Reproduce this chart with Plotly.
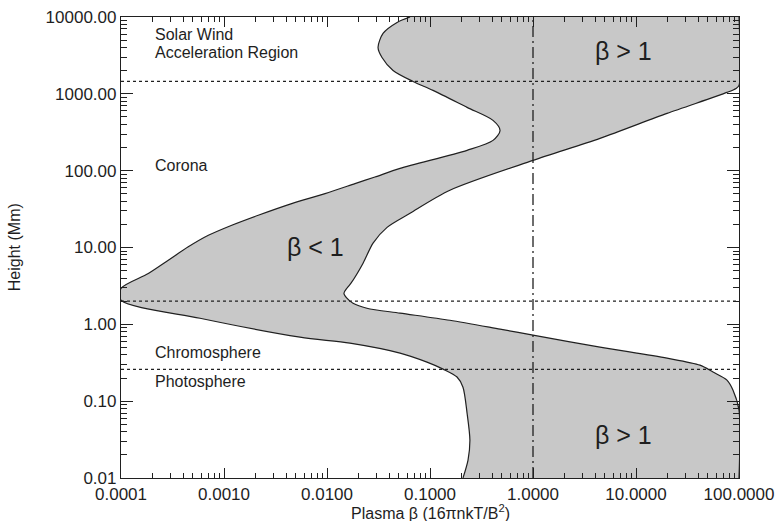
import plotly.graph_objects as go

# ---- data ----
# left (low-beta) boundary of the shaded band, bottom -> top
h_lo = [0.01, 0.0171, 0.0312, 0.070, 0.152, 0.206, 0.261, 0.322, 0.422, 0.569,
        0.681, 1.20, 2.06, 2.93, 4.58, 6.83, 10.2, 14.4, 19.5, 26.3,
        37.3, 50.3, 67.8, 82.7, 107, 184, 248, 334, 451, 666,
        1108, 1450, 2015, 2974, 4012, 6105, 8480, 10000]
beta_lo = [0.209, 0.234, 0.244, 0.229, 0.209, 0.183, 0.134, 0.0935, 0.0512, 0.0167,
           0.00547, 0.000585, 0.0001, 0.0001, 0.000184, 0.000288, 0.000450, 0.000705, 0.00119, 0.00215,
           0.00454, 0.00957, 0.0187, 0.0292, 0.0512, 0.229, 0.409, 0.479, 0.409, 0.229,
           0.107, 0.0684, 0.0438, 0.0342, 0.0313, 0.0350, 0.0479, 0.0640]

# right (high-beta) boundary of the shaded band, bottom -> top
h_hi = [0.01, 0.0766, 0.139, 0.188, 0.239, 0.294, 0.363, 0.505, 0.723, 0.865, 1.13, 1.40,
        1.62, 1.88, 2.19, 2.54, 2.95, 3.43, 6.24, 11.4, 18.3, 27.9, 55.5, 136, 263, 556,
        1043, 1176, 1286, 10000]
beta_hi = [100, 100, 87.5, 76.4, 56.0, 41.8, 20.0, 4.47, 1.0, 0.479, 0.156, 0.0512,
           0.0244, 0.0179, 0.0156, 0.0146, 0.0156, 0.0171, 0.0224, 0.0280, 0.0383, 0.0640,
           0.156, 1.0, 4.47, 20.0, 76.4, 93.5, 100, 100]

# region boundaries (Mm) and beta = 1
region_heights = [1450, 2.0, 0.26]
beta_unity = 1.0

x_tickvals = [1e-4, 1e-3, 1e-2, 1e-1, 1, 10, 100]
x_ticktext = ["0.0001", "0.0010", "0.0100", "0.1000", "1.0000", "10.0000", "100.0000"]
y_tickvals = [0.01, 0.1, 1, 10, 100, 1000, 10000]
y_ticktext = ["0.01", "0.10", "1.00", "10.00", "100.00", "1000.00", "10000.00"]

FONT = "Liberation Sans, Arial, sans-serif"
TXT = "#1e1e1e"

fig = go.Figure()

# shaded band
fig.add_trace(go.Scatter(
    x=beta_lo + beta_hi[::-1], y=h_lo + h_hi[::-1],
    mode="lines", fill="toself", fillcolor="#c8c8c8",
    line=dict(width=0, color="rgba(0,0,0,0)", shape="spline", smoothing=0.8),
    hoverinfo="skip", showlegend=False))

# boundary curves
for bx, hy in ((beta_lo, h_lo), (beta_hi, h_hi)):
    fig.add_trace(go.Scatter(x=bx, y=hy, mode="lines",
                             line=dict(color="#202020", width=1.2, shape="spline", smoothing=0.8),
                             showlegend=False, hoverinfo="skip"))

# horizontal dotted region lines
for hv in region_heights:
    fig.add_trace(go.Scatter(x=[1e-4, 100], y=[hv, hv], mode="lines",
                             line=dict(color="#202020", width=1.3, dash="3px,3px"),
                             showlegend=False, hoverinfo="skip"))

# vertical dash-dot line at beta = 1
fig.add_trace(go.Scatter(x=[beta_unity, beta_unity], y=[0.01, 10000], mode="lines",
                         line=dict(color="#202020", width=1.3, dash="11px,4px,2px,4px"),
                         showlegend=False, hoverinfo="skip"))

minor_x = [m * 10 ** e for e in range(-4, 2) for m in range(2, 10)]
minor_y = [m * 10 ** e for e in range(-2, 4) for m in range(2, 10)]

fig.update_xaxes(type="log", range=[-4, 2], tickmode="array", automargin=False,
                 tickvals=x_tickvals, ticktext=x_ticktext,
                 ticks="inside", ticklen=10, tickwidth=1, tickcolor="#202020",
                 showline=True, linecolor="#202020", linewidth=1.2, mirror="ticks",
                 showgrid=False, zeroline=False,
                 tickfont=dict(family=FONT, size=17, color=TXT),
                 minor=dict(tickmode="array", tickvals=minor_x, ticks="inside",
                            ticklen=5, tickcolor="#202020", showgrid=False))
fig.update_yaxes(type="log", range=[-2, 4], tickmode="array", automargin=False,
                 tickvals=y_tickvals, ticktext=y_ticktext,
                 ticks="inside", ticklen=12, tickwidth=1, tickcolor="#202020",
                 showline=True, linecolor="#202020", linewidth=1.2, mirror="ticks",
                 showgrid=False, zeroline=False,
                 tickfont=dict(family=FONT, size=17, color=TXT),
                 minor=dict(tickmode="array", tickvals=minor_y, ticks="inside",
                            ticklen=6, tickcolor="#202020", showgrid=False))

def label(text, lx, ly, size=16, anchor="left"):
    fig.add_annotation(x=lx, y=ly, xref="x", yref="y", text=text, showarrow=False,
                       xanchor=anchor, yanchor="middle",
                       font=dict(family=FONT, size=size, color=TXT))

label("Solar Wind", -3.689, 3.772)
label("Acceleration Region", -3.689, 3.538)
label("Corona", -3.689, 2.069)
label("Chromosphere", -3.689, -0.362)
label("Photosphere", -3.689, -0.739)
label("β &lt; 1", -2.107, 1.003, size=25, anchor="center")
label("β &gt; 1", 0.883, 3.564, size=25, anchor="center")
label("β &gt; 1", 0.883, -1.441, size=25, anchor="center")

fig.add_annotation(x=0.5, y=-0.074, xref="paper", yref="paper",
                   text="Plasma β (16πnkT/B<sup>2</sup>)", showarrow=False,
                   xanchor="center", yanchor="middle",
                   font=dict(family=FONT, size=16, color=TXT))
fig.add_annotation(x=-0.172, y=0.5, xref="paper", yref="paper",
                   text="Height (Mm)", showarrow=False, textangle=-90,
                   xanchor="center", yanchor="middle",
                   font=dict(family=FONT, size=16, color=TXT))

fig.update_layout(width=779, height=521,
                  margin=dict(l=121, r=40, t=17, b=43),
                  paper_bgcolor="white", plot_bgcolor="white",
                  showlegend=False)

fig.write_html("out.html")
